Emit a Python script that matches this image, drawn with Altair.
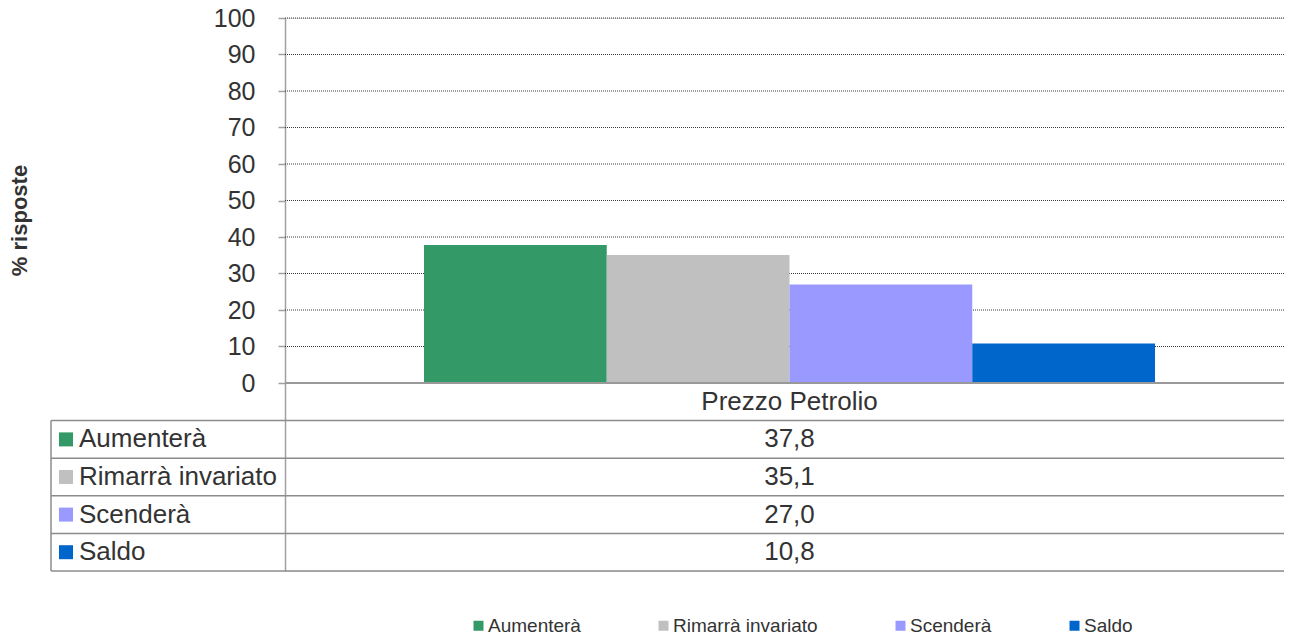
import altair as alt
import pandas as pd

# ---- data ----
series = ["Aumenterà", "Rimarrà invariato", "Scenderà", "Saldo"]
values = [37.8, 35.1, 27.0, 10.8]
colors = ["#339966", "#C0C0C0", "#9999FF", "#0066CC"]
category = "Prezzo Petrolio"
y_ticks = [0, 10, 20, 30, 40, 50, 60, 70, 80, 90, 100]
y_title = "% risposte"

# ---- layout ----
FONT = "Liberation Sans"
TEXT = "#333333"
PLOT_W = 999
PLOT_H = 553
Y_MAX = 100
PX = 3.65                      # pixels per percentage point
ZERO_PY = Y_MAX * PX           # pixel row of the value 0 inside the plot
ROW_H = (PLOT_H - ZERO_PY) / 5  # category row + 4 table rows
LEFT = -234                    # left edge of the data table
BAR_RANGE = [139, 870]         # span of the bar group inside the plot
CAT_X = (BAR_RANGE[0] + BAR_RANGE[1]) / 2


def y_at(py):
    return Y_MAX - py / PX


Y_MIN = y_at(PLOT_H)

yscale = alt.Scale(domain=[Y_MIN, Y_MAX], nice=False, zero=False)
xtab = alt.Scale(domain=[0, PLOT_W], nice=False, zero=False)
cscale = alt.Scale(domain=series, range=colors)

X_T = lambda f: alt.X(f"{f}:Q", scale=xtab, axis=None)
Y_T = lambda f: alt.Y(f"{f}:Q", scale=yscale, axis=None)

# ---- horizontal gridlines (dotted) ----
grid_df = pd.DataFrame({
    "tx": [0] * (len(y_ticks) - 1),
    "tx2": [PLOT_W] * (len(y_ticks) - 1),
    "ty": y_ticks[1:],
})
grid = alt.Chart(grid_df).mark_rule(color="#3a3a3a", strokeWidth=1,
                                    strokeDash=[1, 1]).encode(
    x=X_T("tx"), x2="tx2", y=Y_T("ty"))

bars_df = pd.DataFrame({"series": series, "value": values})

bars = alt.Chart(bars_df).mark_bar().encode(
    x=alt.X("series:N", sort=series,
            scale=alt.Scale(domain=series, range=BAR_RANGE,
                            paddingInner=0, paddingOuter=0),
            axis=None),
    y=alt.Y("value:Q", scale=yscale,
            axis=alt.Axis(values=y_ticks, grid=False,
                          domainColor="#a0a0a0", domainWidth=1.5,
                          tickColor="#a0a0a0", tickSize=7, tickWidth=1.5,
                          labelFont=FONT, labelFontSize=25, labelColor=TEXT,
                          labelPadding=23,
                          title=y_title, titleFont=FONT, titleFontSize=22,
                          titleFontWeight="bold", titleColor=TEXT,
                          titleAngle=270, titleX=-266, titleY=202,
                          titleAlign="center", titleBaseline="middle")),
    color=alt.Color("series:N", scale=cscale,
                    legend=alt.Legend(title=None, orient="none",
                                      direction="horizontal", columns=4,
                                      legendX=184, legendY=598,
                                      symbolType="square", symbolSize=100,
                                      symbolStrokeWidth=0,
                                      labelFont=FONT, labelFontSize=19,
                                      labelColor=TEXT, labelOffset=0,
                                      columnPadding=73, padding=0)),
)

# ---- data table under the plot ----
n = len(series)
row_centers = [y_at(ZERO_PY + ROW_H * (i + 1.5)) for i in range(n)]
table_df = pd.DataFrame({
    "series": series,
    "label": series,
    "txt": [f"{v:.1f}".replace(".", ",") for v in values],
    "ty": row_centers,
    "tx_sq": [LEFT + 15] * n,
    "tx_lab": [LEFT + 28] * n,
    "tx_val": [CAT_X] * n,
})

hlines_df = pd.DataFrame({
    "tx": [LEFT] * (n + 1),
    "tx2": [PLOT_W] * (n + 1),
    "ty": [y_at(ZERO_PY + ROW_H * (i + 1)) for i in range(n + 1)],
})
vline_df = pd.DataFrame({"tx": [LEFT], "ty": [y_at(ZERO_PY + ROW_H)], "ty2": [Y_MIN]})
zero_df = pd.DataFrame({"tx": [0], "tx2": [PLOT_W], "ty": [0]})
cat_df = pd.DataFrame({"tx": [CAT_X], "ty": [y_at(ZERO_PY + ROW_H * 0.5)], "txt": [category]})

zero_line = alt.Chart(zero_df).mark_rule(color="#999999", strokeWidth=2).encode(
    x=X_T("tx"), x2="tx2", y=Y_T("ty"))

hlines = alt.Chart(hlines_df).mark_rule(color="#8c8c8c", strokeWidth=1.5).encode(
    x=X_T("tx"), x2="tx2", y=Y_T("ty"))

vline = alt.Chart(vline_df).mark_rule(color="#8c8c8c", strokeWidth=1.5).encode(
    x=X_T("tx"), y=Y_T("ty"), y2="ty2")

squares = alt.Chart(table_df).mark_square(size=196, opacity=1).encode(
    x=X_T("tx_sq"), y=Y_T("ty"),
    color=alt.Color("series:N", scale=cscale, legend=None))

labels = alt.Chart(table_df).mark_text(
    align="left", baseline="middle", font=FONT, fontSize=26, color=TEXT
).encode(x=X_T("tx_lab"), y=Y_T("ty"), text="label:N")

vals = alt.Chart(table_df).mark_text(
    align="center", baseline="middle", font=FONT, fontSize=26, color=TEXT
).encode(x=X_T("tx_val"), y=Y_T("ty"), text="txt:N")

cat = alt.Chart(cat_df).mark_text(
    align="center", baseline="middle", font=FONT, fontSize=26, color=TEXT
).encode(x=X_T("tx"), y=Y_T("ty"), text="txt:N")

chart = alt.layer(
    grid, bars, zero_line, hlines, vline, squares, labels, vals, cat
).resolve_scale(x="independent").resolve_axis(y="independent").properties(
    width=PLOT_W, height=PLOT_H,
    autosize=alt.AutoSizeParams(type="none"),
    padding={"left": 277, "top": 10, "right": 0, "bottom": 65},
).configure_view(strokeWidth=0).configure(background="white")

chart.save("out.html", embed_options={"renderer": "svg", "actions": False})
